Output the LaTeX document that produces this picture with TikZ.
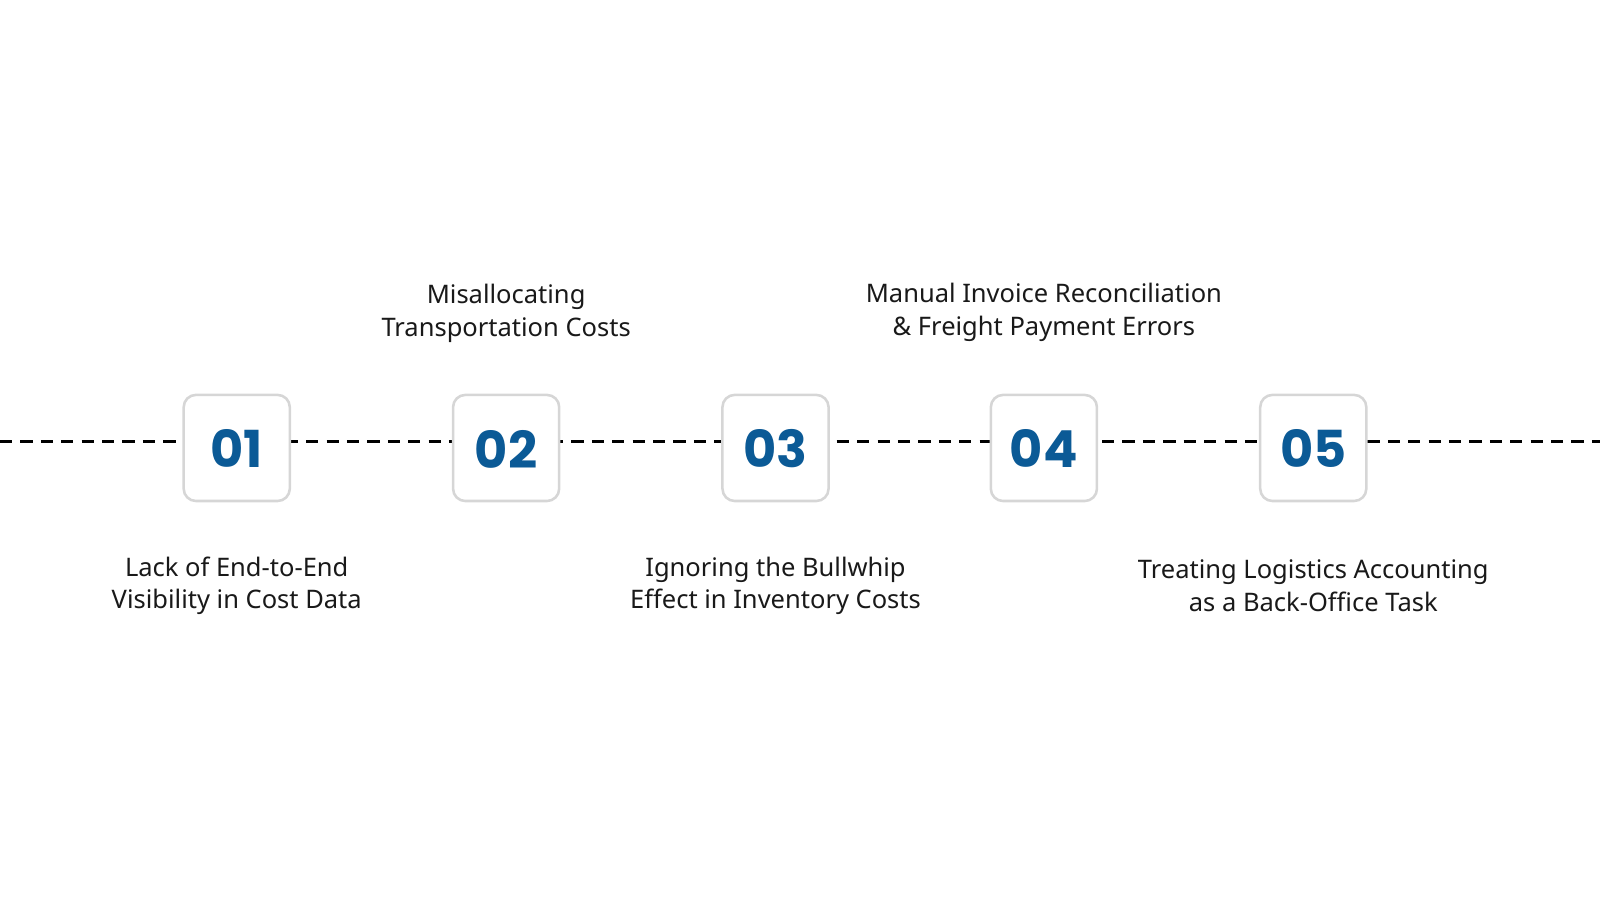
\documentclass[tikz,border=0pt]{standalone}
\usepackage{fontspec}
\setmainfont{Noto Sans}
\newfontfamily\numfont{Poppins}
\definecolor{numblue}{HTML}{0B5A96}
\definecolor{boxgray}{HTML}{D6D6D6}
\tikzset{
  numbox/.style={draw=boxgray,line width=2.5pt,fill=white,rounded corners=12pt,minimum width=104pt,minimum height=104pt,inner sep=0pt,text=numblue,font=\numfont\bfseries\fontsize{50}{50}\selectfont},
  lbl/.style={align=center,font=\fontsize{25}{32}\selectfont,text=black!90,inner sep=0pt},
  dline/.style={line width=2.8pt,dash pattern=on 12pt off 8pt}
}
\begin{document}
\begin{tikzpicture}[x=1pt,y=-1pt]
\useasboundingbox (0,0) rectangle (1568,882);
\coordinate (L) at (0,433);
\coordinate (R) at (1568,433);
\draw[dline] (L) -- (R);
\foreach \i/\x in {1/232,2/496,3/760,4/1023,5/1287}{
  \node[numbox] (b\i) at (\x,439) {};
  \node[text=numblue,font=\numfont\bfseries\fontsize{50}{50}\selectfont] (n\i) at (\x,440) {0\i};
}
\node[lbl] (t2) at (496,307) {Misallocating\\Transportation Costs};
\node[lbl] (t4) at (1023,306) {Manual Invoice Reconciliation\\\& Freight Payment Errors};
\node[lbl] (t1) at (232,574) {Lack of End-to-End\\Visibility in Cost Data};
\node[lbl] (t3) at (760,574) {Ignoring the Bullwhip\\Effect in Inventory Costs};
\node[lbl] (t5) at (1287,574) {Treating Logistics Accounting\\as a Back-Office Task};
\end{tikzpicture}
\end{document}
